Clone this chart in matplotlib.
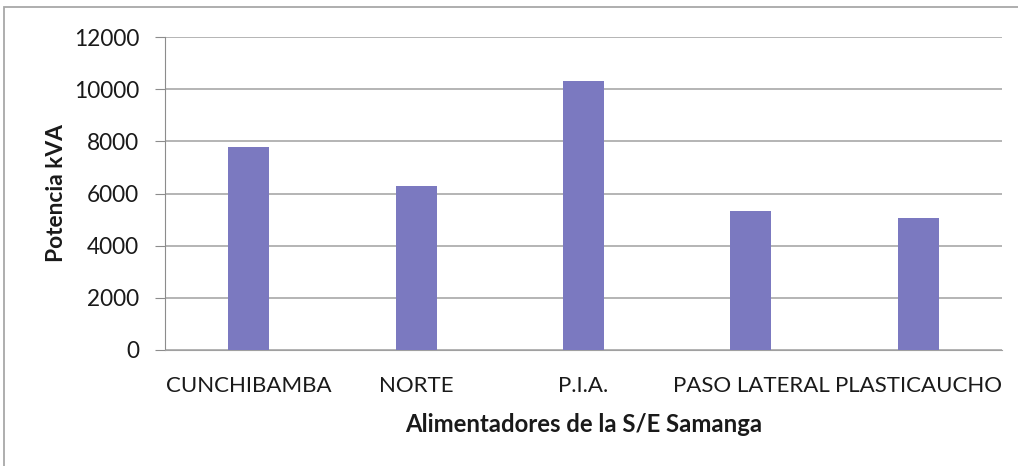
import matplotlib.pyplot as plt
from matplotlib.patches import Rectangle

alimentadores = ['CUNCHIBAMBA', 'NORTE', 'P.I.A.', 'PASO LATERAL', 'PLASTICAUCHO']
potencia_kva = [7800, 6290, 10310, 5310, 5070]
y_ticks = [0, 2000, 4000, 6000, 8000, 10000, 12000]

plt.rcParams['font.family'] = ['Lato', 'DejaVu Sans']

fig = plt.figure(figsize=(10.18, 4.66), dpi=100)
ax = fig.add_axes([165 / 1018, 1 - 350 / 466, (1002 - 165) / 1018, (350 - 37) / 466])

# outer chart frame
fig.patches.append(Rectangle((4 / 1018, -0.01), 1.1, 1 - 7 / 466 + 0.01,
                             transform=fig.transFigure, fill=False,
                             edgecolor='#a8a8a8', linewidth=1.3))

x = range(len(alimentadores))
ax.bar(x, potencia_kva, width=0.245, color='#7b79c0', zorder=3)

ax.set_xlim(-0.5, len(alimentadores) - 0.5)
ax.set_ylim(0, 12000)
ax.set_yticks(y_ticks)
ax.set_yticklabels([str(v) for v in y_ticks], fontsize=16.3, color='#1a1a1a')
ax.set_xticks(list(x))
ax.set_xticklabels(alimentadores, fontsize=16, color='#1a1a1a')

ax.grid(axis='y', color='#a0a0a0', linewidth=1.1, zorder=0)
for s in ['top', 'right']:
    ax.spines[s].set_visible(False)
ax.spines['left'].set_color('#8c8c8c')
ax.spines['bottom'].set_color('#a0a0a0')
ax.tick_params(axis='y', length=7, color='#8c8c8c', pad=11.5)
ax.tick_params(axis='x', length=0, pad=19)

ax.set_ylabel('Potencia kVA', fontsize=16.4, fontweight='bold', color='#1a1a1a', labelpad=5)
ax.set_xlabel('Alimentadores de la S/E Samanga', fontsize=17.2, fontweight='bold',
              color='#1a1a1a', labelpad=12)

fig.savefig('out.png', dpi=100)
